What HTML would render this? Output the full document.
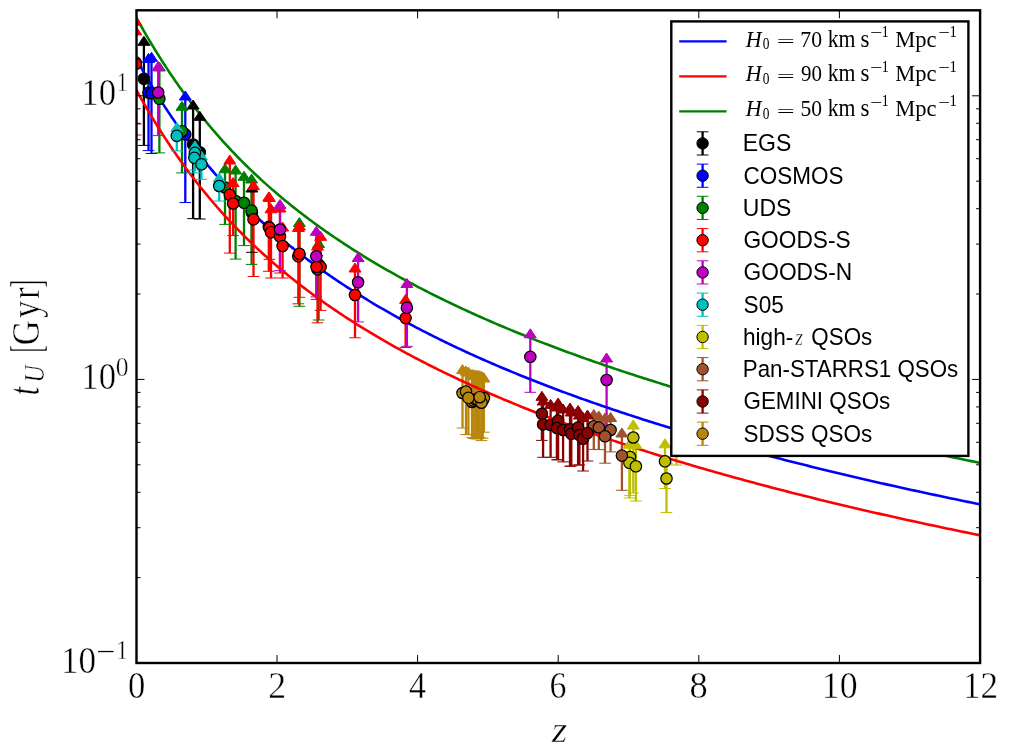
<!DOCTYPE html>
<html lang="en"><head><meta charset="utf-8"><title>t_U vs z</title>
<style>html,body{margin:0;padding:0;background:#fff;}body{width:1024px;height:752px;overflow:hidden;}svg{display:block;}.tx{font-family:"Liberation Serif", serif;fill:#000;}.ss{font-family:"Liberation Sans", sans-serif;fill:#000;}</style>
</head><body>
<svg width="1024" height="752" viewBox="0 0 1024 752">
<rect x="0" y="0" width="1024" height="752" fill="#ffffff"/>
<defs><clipPath id="ax"><rect x="136.5" y="10.3" width="843.6" height="652.7"/></clipPath></defs>
<g clip-path="url(#ax)">
<g stroke="#000000" stroke-width="2.3" fill="none">
<line x1="143.9" y1="38.3" x2="143.9" y2="145.4"/>
<line x1="193.1" y1="102.0" x2="193.1" y2="218.6"/>
<line x1="199.8" y1="113.3" x2="199.8" y2="219.0"/>
<line x1="251.9" y1="185.0" x2="251.9" y2="252.3"/>
</g>
<g stroke="#0000ff" stroke-width="2.3" fill="none">
<line x1="148.5" y1="55.5" x2="148.5" y2="150.6"/>
<line x1="151.5" y1="54.3" x2="151.5" y2="153.5"/>
<line x1="185.3" y1="93.0" x2="185.3" y2="202.5"/>
</g>
<g stroke="#008000" stroke-width="2.3" fill="none">
<line x1="159.4" y1="64.0" x2="159.4" y2="152.9"/>
<line x1="182.0" y1="103.3" x2="182.0" y2="172.9"/>
<line x1="225.0" y1="165.8" x2="225.0" y2="224.4"/>
<line x1="235.6" y1="167.0" x2="235.6" y2="259.1"/>
<line x1="244.0" y1="173.3" x2="244.0" y2="245.6"/>
<line x1="251.6" y1="176.0" x2="251.6" y2="264.4"/>
<line x1="299.4" y1="219.5" x2="299.4" y2="306.3"/>
<line x1="318.6" y1="240.5" x2="318.6" y2="320.0"/>
</g>
<g stroke="#ff0000" stroke-width="2.3" fill="none">
<line x1="135.8" y1="18.3" x2="135.8" y2="135.0"/>
<line x1="135.8" y1="27.9" x2="135.8" y2="124.0"/>
<line x1="229.8" y1="157.0" x2="229.8" y2="253.1"/>
<line x1="233.1" y1="179.5" x2="233.1" y2="235.6"/>
<line x1="253.5" y1="182.6" x2="253.5" y2="276.5"/>
<line x1="268.8" y1="193.9" x2="268.8" y2="271.3"/>
<line x1="269.4" y1="194.5" x2="269.4" y2="259.4"/>
<line x1="271.0" y1="205.8" x2="271.0" y2="278.0"/>
<line x1="280.0" y1="205.0" x2="280.0" y2="273.0"/>
<line x1="282.6" y1="224.0" x2="282.6" y2="278.0"/>
<line x1="298.3" y1="224.5" x2="298.3" y2="303.8"/>
<line x1="299.4" y1="223.0" x2="299.4" y2="297.3"/>
<line x1="317.5" y1="243.0" x2="317.5" y2="322.8"/>
<line x1="320.6" y1="233.3" x2="320.6" y2="310.4"/>
<line x1="316.5" y1="249.0" x2="316.5" y2="299.4"/>
<line x1="355.0" y1="265.0" x2="355.0" y2="337.8"/>
<line x1="405.6" y1="296.4" x2="405.6" y2="347.5"/>
</g>
<g stroke="#bf00bf" stroke-width="2.3" fill="none">
<line x1="158.2" y1="63.4" x2="158.2" y2="135.6"/>
<line x1="280.0" y1="201.4" x2="280.0" y2="270.6"/>
<line x1="316.3" y1="228.3" x2="316.3" y2="296.9"/>
<line x1="358.1" y1="254.5" x2="358.1" y2="321.9"/>
<line x1="406.9" y1="280.5" x2="406.9" y2="346.3"/>
<line x1="530.3" y1="330.8" x2="530.3" y2="392.3"/>
<line x1="606.6" y1="355.0" x2="606.6" y2="425.0"/>
</g>
<g stroke="#00bfbf" stroke-width="2.3" fill="none">
<line x1="176.8" y1="124.5" x2="176.8" y2="150.9"/>
<line x1="194.9" y1="142.9" x2="194.9" y2="170.0"/>
<line x1="194.4" y1="148.0" x2="194.4" y2="172.8"/>
<line x1="201.4" y1="153.0" x2="201.4" y2="179.3"/>
<line x1="219.2" y1="175.0" x2="219.2" y2="201.0"/>
</g>
<g stroke="#bfbf00" stroke-width="2.3" fill="none">
<line x1="633.3" y1="422.0" x2="633.3" y2="493.0"/>
<line x1="630.0" y1="440.8" x2="630.0" y2="495.6"/>
<line x1="629.4" y1="441.2" x2="629.4" y2="498.0"/>
<line x1="635.9" y1="441.6" x2="635.9" y2="501.0"/>
<line x1="665.0" y1="440.8" x2="665.0" y2="488.5"/>
<line x1="666.5" y1="457.0" x2="666.5" y2="512.5"/>
<line x1="676.4" y1="432.0" x2="676.4" y2="465.0"/>
</g>
<g stroke="#a0522d" stroke-width="2.3" fill="none">
<line x1="593.8" y1="411.4" x2="593.8" y2="449.4"/>
<line x1="598.8" y1="413.0" x2="598.8" y2="449.6"/>
<line x1="610.6" y1="414.5" x2="610.6" y2="451.9"/>
<line x1="605.0" y1="415.0" x2="605.0" y2="463.2"/>
<line x1="621.9" y1="430.0" x2="621.9" y2="490.3"/>
</g>
<g stroke="#8b0000" stroke-width="2.3" fill="none">
<line x1="541.9" y1="393.3" x2="541.9" y2="440.4"/>
<line x1="543.1" y1="398.0" x2="543.1" y2="457.3"/>
<line x1="550.6" y1="401.4" x2="550.6" y2="457.3"/>
<line x1="558.1" y1="400.0" x2="558.1" y2="459.8"/>
<line x1="556.9" y1="404.0" x2="556.9" y2="459.8"/>
<line x1="563.1" y1="406.0" x2="563.1" y2="461.9"/>
<line x1="570.0" y1="405.0" x2="570.0" y2="466.3"/>
<line x1="571.3" y1="409.0" x2="571.3" y2="466.0"/>
<line x1="578.1" y1="407.6" x2="578.1" y2="465.0"/>
<line x1="579.4" y1="412.0" x2="579.4" y2="465.0"/>
<line x1="583.1" y1="414.5" x2="583.1" y2="471.0"/>
<line x1="587.5" y1="412.0" x2="587.5" y2="461.0"/>
</g>
<g stroke="#b8860b" stroke-width="2.3" fill="none">
<line x1="462.5" y1="366.6" x2="462.5" y2="428.0"/>
<line x1="466.0" y1="368.0" x2="466.0" y2="434.6"/>
<line x1="472.0" y1="371.4" x2="472.0" y2="437.6"/>
<line x1="473.7" y1="371.8" x2="473.7" y2="438.4"/>
<line x1="477.0" y1="372.4" x2="477.0" y2="438.6"/>
<line x1="482.7" y1="374.0" x2="482.7" y2="438.2"/>
<line x1="475.5" y1="372.3" x2="475.5" y2="438.8"/>
<line x1="478.0" y1="372.6" x2="478.0" y2="438.8"/>
<line x1="483.9" y1="375.0" x2="483.9" y2="432.2"/>
<line x1="481.5" y1="373.5" x2="481.5" y2="440.6"/>
<line x1="468.4" y1="369.0" x2="468.4" y2="434.6"/>
<line x1="479.7" y1="372.8" x2="479.7" y2="437.6"/>
</g>
<polyline points="134.99,56.57 135.05,56.68 135.17,56.89 135.33,57.19 135.53,57.55 135.76,57.97 136.02,58.44 136.30,58.96 136.61,59.52 136.95,60.13 137.31,60.78 137.69,61.47 138.09,62.20 138.51,62.96 138.96,63.75 139.42,64.58 139.90,65.44 140.40,66.33 140.92,67.24 141.45,68.19 142.01,69.16 142.58,70.16 143.16,71.19 143.77,72.24 144.38,73.31 145.02,74.41 145.67,75.53 146.33,76.67 147.01,77.83 147.70,79.02 148.41,80.22 149.13,81.44 149.87,82.68 150.62,83.94 151.39,85.22 152.16,86.51 152.96,87.82 153.76,89.14 154.58,90.48 155.41,91.84 156.25,93.21 157.11,94.59 157.98,95.99 158.86,97.40 159.76,98.82 160.66,100.25 161.58,101.70 162.51,103.16 163.46,104.62 164.41,106.10 165.38,107.59 166.36,109.08 167.35,110.59 168.35,112.10 169.36,113.62 170.38,115.15 171.42,116.69 172.46,118.24 173.52,119.79 174.59,121.35 175.67,122.91 176.76,124.48 177.86,126.05 178.97,127.63 180.09,129.22 181.23,130.81 182.37,132.40 183.52,134.00 184.69,135.60 185.86,137.20 187.05,138.81 188.24,140.41 189.45,142.03 190.66,143.64 191.89,145.26 193.12,146.87 194.37,148.49 195.62,150.11 196.89,151.73 198.16,153.35 199.45,154.98 200.74,156.60 202.04,158.22 203.36,159.84 204.68,161.46 206.01,163.09 207.35,164.71 208.70,166.33 210.06,167.95 211.43,169.57 212.81,171.18 214.20,172.80 215.60,174.41 217.00,176.02 218.42,177.63 219.84,179.24 221.28,180.85 222.72,182.45 224.17,184.05 225.63,185.65 227.10,187.25 228.58,188.84 230.06,190.43 231.56,192.02 233.06,193.61 234.58,195.19 236.10,196.77 237.63,198.34 239.17,199.91 240.72,201.48 242.27,203.05 243.84,204.61 245.41,206.17 246.99,207.72 248.58,209.27 250.18,210.82 251.79,212.36 253.40,213.90 255.03,215.44 256.66,216.97 258.30,218.49 259.95,220.02 261.60,221.53 263.27,223.05 264.94,224.56 266.62,226.07 268.31,227.57 270.01,229.06 271.71,230.56 273.42,232.05 275.14,233.53 276.87,235.01 278.61,236.49 280.36,237.96 282.11,239.42 283.87,240.89 285.64,242.34 287.41,243.80 289.20,245.24 290.99,246.69 292.79,248.13 294.60,249.56 296.41,250.99 298.23,252.42 300.06,253.84 301.90,255.26 303.75,256.67 305.60,258.08 307.46,259.48 309.33,260.88 311.20,262.27 313.09,263.66 314.98,265.05 316.88,266.43 318.78,267.80 320.70,269.18 322.62,270.54 324.54,271.90 326.48,273.26 328.42,274.62 330.37,275.96 332.33,277.31 334.30,278.65 336.27,279.98 338.25,281.31 340.23,282.64 342.23,283.96 344.23,285.28 346.24,286.59 348.25,287.90 350.27,289.21 352.30,290.51 354.34,291.80 356.38,293.09 358.44,294.38 360.49,295.66 362.56,296.94 364.63,298.21 366.71,299.48 368.80,300.75 370.89,302.01 372.99,303.27 375.10,304.52 377.21,305.77 379.33,307.01 381.46,308.25 383.60,309.49 385.74,310.72 387.89,311.95 390.04,313.17 392.21,314.39 394.38,315.61 396.55,316.82 398.73,318.03 400.92,319.23 403.12,320.43 405.32,321.63 407.53,322.82 409.75,324.01 411.98,325.19 414.21,326.37 416.44,327.55 418.69,328.72 420.94,329.89 423.19,331.05 425.46,332.21 427.73,333.37 430.01,334.52 432.29,335.67 434.58,336.82 436.88,337.96 439.18,339.10 441.49,340.23 443.81,341.36 446.13,342.49 448.46,343.61 450.79,344.73 453.14,345.85 455.49,346.96 457.84,348.07 460.20,349.18 462.57,350.28 464.95,351.38 467.33,352.47 469.71,353.57 472.11,354.65 474.51,355.74 476.92,356.82 479.33,357.90 481.75,358.97 484.17,360.04 486.61,361.11 489.05,362.18 491.49,363.24 493.94,364.29 496.40,365.35 498.86,366.40 501.33,367.45 503.81,368.49 506.29,369.54 508.78,370.57 511.28,371.61 513.78,372.64 516.28,373.67 518.80,374.70 521.32,375.72 523.84,376.74 526.38,377.75 528.91,378.77 531.46,379.78 534.01,380.78 536.57,381.79 539.13,382.79 541.70,383.79 544.27,384.78 546.85,385.77 549.44,386.76 552.04,387.75 554.63,388.73 557.24,389.71 559.85,390.69 562.47,391.67 565.09,392.64 567.72,393.61 570.36,394.57 573.00,395.54 575.65,396.50 578.30,397.45 580.96,398.41 583.63,399.36 586.30,400.31 588.97,401.26 591.66,402.20 594.35,403.14 597.04,404.08 599.74,405.02 602.45,405.95 605.16,406.88 607.88,407.81 610.61,408.73 613.34,409.66 616.07,410.58 618.81,411.49 621.56,412.41 624.32,413.32 627.08,414.23 629.84,415.14 632.61,416.04 635.39,416.94 638.17,417.84 640.96,418.74 643.76,419.64 646.56,420.53 649.36,421.42 652.17,422.30 654.99,423.19 657.81,424.07 660.64,424.95 663.48,425.83 666.32,426.70 669.16,427.58 672.02,428.45 674.87,429.32 677.74,430.18 680.61,431.05 683.48,431.91 686.36,432.77 689.25,433.62 692.14,434.48 695.03,435.33 697.94,436.18 700.85,437.03 703.76,437.87 706.68,438.71 709.60,439.56 712.53,440.39 715.47,441.23 718.41,442.06 721.36,442.90 724.31,443.73 727.27,444.55 730.24,445.38 733.21,446.20 736.18,447.03 739.16,447.84 742.15,448.66 745.14,449.48 748.14,450.29 751.14,451.10 754.15,451.91 757.16,452.72 760.18,453.52 763.21,454.32 766.24,455.12 769.27,455.92 772.31,456.72 775.36,457.51 778.41,458.31 781.47,459.10 784.53,459.89 787.60,460.67 790.68,461.46 793.75,462.24 796.84,463.02 799.93,463.80 803.02,464.58 806.13,465.35 809.23,466.13 812.34,466.90 815.46,467.67 818.58,468.44 821.71,469.20 824.84,469.97 827.98,470.73 831.13,471.49 834.27,472.25 837.43,473.00 840.59,473.76 843.75,474.51 846.92,475.26 850.10,476.01 853.28,476.76 856.47,477.51 859.66,478.25 862.85,478.99 866.06,479.73 869.26,480.47 872.48,481.21 875.69,481.94 878.92,482.68 882.15,483.41 885.38,484.14 888.62,484.87 891.86,485.59 895.11,486.32 898.37,487.04 901.63,487.77 904.89,488.49 908.16,489.20 911.44,489.92 914.72,490.64 918.00,491.35 921.29,492.06 924.59,492.77 927.89,493.48 931.20,494.19 934.51,494.89 937.82,495.60 941.15,496.30 944.47,497.00 947.80,497.70 951.14,498.40 954.48,499.09 957.83,499.79 961.18,500.48 964.54,501.17 967.90,501.86 971.27,502.55 974.64,503.24 978.02,503.92 981.41,504.61" fill="none" stroke="#0000ff" stroke-width="2.6" stroke-linejoin="round"/>
<polyline points="134.99,87.53 135.05,87.63 135.17,87.85 135.33,88.14 135.53,88.50 135.76,88.92 136.02,89.39 136.30,89.91 136.61,90.48 136.95,91.09 137.31,91.74 137.69,92.42 138.09,93.15 138.51,93.91 138.96,94.70 139.42,95.53 139.90,96.39 140.40,97.28 140.92,98.20 141.45,99.14 142.01,100.12 142.58,101.12 143.16,102.14 143.77,103.19 144.38,104.27 145.02,105.36 145.67,106.48 146.33,107.62 147.01,108.79 147.70,109.97 148.41,111.17 149.13,112.39 149.87,113.63 150.62,114.89 151.39,116.17 152.16,117.46 152.96,118.77 153.76,120.10 154.58,121.44 155.41,122.79 156.25,124.16 157.11,125.55 157.98,126.94 158.86,128.35 159.76,129.77 160.66,131.21 161.58,132.65 162.51,134.11 163.46,135.58 164.41,137.05 165.38,138.54 166.36,140.04 167.35,141.54 168.35,143.06 169.36,144.58 170.38,146.11 171.42,147.65 172.46,149.19 173.52,150.74 174.59,152.30 175.67,153.86 176.76,155.43 177.86,157.01 178.97,158.59 180.09,160.17 181.23,161.76 182.37,163.35 183.52,164.95 184.69,166.55 185.86,168.15 187.05,169.76 188.24,171.37 189.45,172.98 190.66,174.59 191.89,176.21 193.12,177.83 194.37,179.44 195.62,181.06 196.89,182.68 198.16,184.31 199.45,185.93 200.74,187.55 202.04,189.17 203.36,190.80 204.68,192.42 206.01,194.04 207.35,195.66 208.70,197.28 210.06,198.90 211.43,200.52 212.81,202.14 214.20,203.75 215.60,205.37 217.00,206.98 218.42,208.59 219.84,210.20 221.28,211.80 222.72,213.41 224.17,215.01 225.63,216.61 227.10,218.20 228.58,219.80 230.06,221.39 231.56,222.97 233.06,224.56 234.58,226.14 236.10,227.72 237.63,229.30 239.17,230.87 240.72,232.44 242.27,234.00 243.84,235.56 245.41,237.12 246.99,238.68 248.58,240.23 250.18,241.77 251.79,243.32 253.40,244.85 255.03,246.39 256.66,247.92 258.30,249.45 259.95,250.97 261.60,252.49 263.27,254.00 264.94,255.51 266.62,257.02 268.31,258.52 270.01,260.02 271.71,261.51 273.42,263.00 275.14,264.48 276.87,265.96 278.61,267.44 280.36,268.91 282.11,270.38 283.87,271.84 285.64,273.30 287.41,274.75 289.20,276.20 290.99,277.64 292.79,279.08 294.60,280.52 296.41,281.95 298.23,283.37 300.06,284.79 301.90,286.21 303.75,287.62 305.60,289.03 307.46,290.43 309.33,291.83 311.20,293.23 313.09,294.62 314.98,296.00 316.88,297.38 318.78,298.76 320.70,300.13 322.62,301.50 324.54,302.86 326.48,304.22 328.42,305.57 330.37,306.92 332.33,308.26 334.30,309.60 336.27,310.94 338.25,312.27 340.23,313.59 342.23,314.92 344.23,316.23 346.24,317.55 348.25,318.86 350.27,320.16 352.30,321.46 354.34,322.76 356.38,324.05 358.44,325.33 360.49,326.62 362.56,327.89 364.63,329.17 366.71,330.44 368.80,331.70 370.89,332.96 372.99,334.22 375.10,335.47 377.21,336.72 379.33,337.97 381.46,339.21 383.60,340.44 385.74,341.68 387.89,342.90 390.04,344.13 392.21,345.35 394.38,346.56 396.55,347.77 398.73,348.98 400.92,350.19 403.12,351.39 405.32,352.58 407.53,353.77 409.75,354.96 411.98,356.14 414.21,357.32 416.44,358.50 418.69,359.67 420.94,360.84 423.19,362.01 425.46,363.17 427.73,364.32 430.01,365.48 432.29,366.63 434.58,367.77 436.88,368.91 439.18,370.05 441.49,371.19 443.81,372.32 446.13,373.44 448.46,374.57 450.79,375.69 453.14,376.80 455.49,377.92 457.84,379.03 460.20,380.13 462.57,381.23 464.95,382.33 467.33,383.43 469.71,384.52 472.11,385.61 474.51,386.69 476.92,387.77 479.33,388.85 481.75,389.93 484.17,391.00 486.61,392.06 489.05,393.13 491.49,394.19 493.94,395.25 496.40,396.30 498.86,397.35 501.33,398.40 503.81,399.45 506.29,400.49 508.78,401.53 511.28,402.56 513.78,403.59 516.28,404.62 518.80,405.65 521.32,406.67 523.84,407.69 526.38,408.71 528.91,409.72 531.46,410.73 534.01,411.74 536.57,412.74 539.13,413.74 541.70,414.74 544.27,415.74 546.85,416.73 549.44,417.72 552.04,418.70 554.63,419.69 557.24,420.67 559.85,421.65 562.47,422.62 565.09,423.59 567.72,424.56 570.36,425.53 573.00,426.49 575.65,427.45 578.30,428.41 580.96,429.36 583.63,430.32 586.30,431.26 588.97,432.21 591.66,433.15 594.35,434.10 597.04,435.03 599.74,435.97 602.45,436.90 605.16,437.83 607.88,438.76 610.61,439.69 613.34,440.61 616.07,441.53 618.81,442.45 621.56,443.36 624.32,444.27 627.08,445.18 629.84,446.09 632.61,447.00 635.39,447.90 638.17,448.80 640.96,449.69 643.76,450.59 646.56,451.48 649.36,452.37 652.17,453.26 654.99,454.14 657.81,455.03 660.64,455.91 663.48,456.78 666.32,457.66 669.16,458.53 672.02,459.40 674.87,460.27 677.74,461.14 680.61,462.00 683.48,462.86 686.36,463.72 689.25,464.58 692.14,465.43 695.03,466.28 697.94,467.13 700.85,467.98 703.76,468.82 706.68,469.67 709.60,470.51 712.53,471.35 715.47,472.18 718.41,473.02 721.36,473.85 724.31,474.68 727.27,475.51 730.24,476.33 733.21,477.16 736.18,477.98 739.16,478.80 742.15,479.62 745.14,480.43 748.14,481.24 751.14,482.05 754.15,482.86 757.16,483.67 760.18,484.47 763.21,485.28 766.24,486.08 769.27,486.88 772.31,487.67 775.36,488.47 778.41,489.26 781.47,490.05 784.53,490.84 787.60,491.63 790.68,492.41 793.75,493.19 796.84,493.98 799.93,494.75 803.02,495.53 806.13,496.31 809.23,497.08 812.34,497.85 815.46,498.62 818.58,499.39 821.71,500.16 824.84,500.92 827.98,501.68 831.13,502.44 834.27,503.20 837.43,503.96 840.59,504.71 843.75,505.46 846.92,506.22 850.10,506.97 853.28,507.71 856.47,508.46 859.66,509.20 862.85,509.95 866.06,510.69 869.26,511.42 872.48,512.16 875.69,512.90 878.92,513.63 882.15,514.36 885.38,515.09 888.62,515.82 891.86,516.55 895.11,517.27 898.37,518.00 901.63,518.72 904.89,519.44 908.16,520.16 911.44,520.87 914.72,521.59 918.00,522.30 921.29,523.02 924.59,523.73 927.89,524.43 931.20,525.14 934.51,525.85 937.82,526.55 941.15,527.25 944.47,527.95 947.80,528.65 951.14,529.35 954.48,530.05 957.83,530.74 961.18,531.43 964.54,532.13 967.90,532.82 971.27,533.50 974.64,534.19 978.02,534.88 981.41,535.56" fill="none" stroke="#ff0000" stroke-width="2.6" stroke-linejoin="round"/>
<polyline points="134.99,15.13 135.05,15.24 135.17,15.45 135.33,15.75 135.53,16.11 135.76,16.53 136.02,17.00 136.30,17.52 136.61,18.08 136.95,18.69 137.31,19.34 137.69,20.03 138.09,20.75 138.51,21.51 138.96,22.31 139.42,23.14 139.90,23.99 140.40,24.88 140.92,25.80 141.45,26.75 142.01,27.72 142.58,28.72 143.16,29.75 143.77,30.80 144.38,31.87 145.02,32.97 145.67,34.09 146.33,35.23 147.01,36.39 147.70,37.57 148.41,38.78 149.13,40.00 149.87,41.24 150.62,42.50 151.39,43.77 152.16,45.07 152.96,46.38 153.76,47.70 154.58,49.04 155.41,50.40 156.25,51.77 157.11,53.15 157.98,54.55 158.86,55.96 159.76,57.38 160.66,58.81 161.58,60.26 162.51,61.71 163.46,63.18 164.41,64.66 165.38,66.15 166.36,67.64 167.35,69.15 168.35,70.66 169.36,72.18 170.38,73.71 171.42,75.25 172.46,76.79 173.52,78.35 174.59,79.90 175.67,81.47 176.76,83.04 177.86,84.61 178.97,86.19 180.09,87.77 181.23,89.36 182.37,90.96 183.52,92.55 184.69,94.15 185.86,95.76 187.05,97.36 188.24,98.97 189.45,100.58 190.66,102.20 191.89,103.81 193.12,105.43 194.37,107.05 195.62,108.67 196.89,110.29 198.16,111.91 199.45,113.53 200.74,115.16 202.04,116.78 203.36,118.40 204.68,120.02 206.01,121.64 207.35,123.27 208.70,124.89 210.06,126.51 211.43,128.12 212.81,129.74 214.20,131.36 215.60,132.97 217.00,134.58 218.42,136.19 219.84,137.80 221.28,139.41 222.72,141.01 224.17,142.61 225.63,144.21 227.10,145.81 228.58,147.40 230.06,148.99 231.56,150.58 233.06,152.16 234.58,153.75 236.10,155.33 237.63,156.90 239.17,158.47 240.72,160.04 242.27,161.61 243.84,163.17 245.41,164.73 246.99,166.28 248.58,167.83 250.18,169.38 251.79,170.92 253.40,172.46 255.03,173.99 256.66,175.52 258.30,177.05 259.95,178.57 261.60,180.09 263.27,181.61 264.94,183.12 266.62,184.62 268.31,186.12 270.01,187.62 271.71,189.12 273.42,190.60 275.14,192.09 276.87,193.57 278.61,195.04 280.36,196.51 282.11,197.98 283.87,199.44 285.64,200.90 287.41,202.35 289.20,203.80 290.99,205.25 292.79,206.69 294.60,208.12 296.41,209.55 298.23,210.98 300.06,212.40 301.90,213.82 303.75,215.23 305.60,216.64 307.46,218.04 309.33,219.44 311.20,220.83 313.09,222.22 314.98,223.61 316.88,224.99 318.78,226.36 320.70,227.73 322.62,229.10 324.54,230.46 326.48,231.82 328.42,233.17 330.37,234.52 332.33,235.87 334.30,237.21 336.27,238.54 338.25,239.87 340.23,241.20 342.23,242.52 344.23,243.84 346.24,245.15 348.25,246.46 350.27,247.76 352.30,249.06 354.34,250.36 356.38,251.65 358.44,252.94 360.49,254.22 362.56,255.50 364.63,256.77 366.71,258.04 368.80,259.31 370.89,260.57 372.99,261.83 375.10,263.08 377.21,264.33 379.33,265.57 381.46,266.81 383.60,268.05 385.74,269.28 387.89,270.51 390.04,271.73 392.21,272.95 394.38,274.17 396.55,275.38 398.73,276.59 400.92,277.79 403.12,278.99 405.32,280.19 407.53,281.38 409.75,282.57 411.98,283.75 414.21,284.93 416.44,286.11 418.69,287.28 420.94,288.45 423.19,289.61 425.46,290.77 427.73,291.93 430.01,293.08 432.29,294.23 434.58,295.38 436.88,296.52 439.18,297.66 441.49,298.79 443.81,299.92 446.13,301.05 448.46,302.17 450.79,303.29 453.14,304.41 455.49,305.52 457.84,306.63 460.20,307.74 462.57,308.84 464.95,309.94 467.33,311.03 469.71,312.12 472.11,313.21 474.51,314.30 476.92,315.38 479.33,316.46 481.75,317.53 484.17,318.60 486.61,319.67 489.05,320.73 491.49,321.80 493.94,322.85 496.40,323.91 498.86,324.96 501.33,326.01 503.81,327.05 506.29,328.09 508.78,329.13 511.28,330.17 513.78,331.20 516.28,332.23 518.80,333.25 521.32,334.28 523.84,335.30 526.38,336.31 528.91,337.32 531.46,338.34 534.01,339.34 536.57,340.35 539.13,341.35 541.70,342.35 544.27,343.34 546.85,344.33 549.44,345.32 552.04,346.31 554.63,347.29 557.24,348.27 559.85,349.25 562.47,350.22 565.09,351.20 567.72,352.17 570.36,353.13 573.00,354.09 575.65,355.06 578.30,356.01 580.96,356.97 583.63,357.92 586.30,358.87 588.97,359.82 591.66,360.76 594.35,361.70 597.04,362.64 599.74,363.58 602.45,364.51 605.16,365.44 607.88,366.37 610.61,367.29 613.34,368.21 616.07,369.13 618.81,370.05 621.56,370.97 624.32,371.88 627.08,372.79 629.84,373.70 632.61,374.60 635.39,375.50 638.17,376.40 640.96,377.30 643.76,378.19 646.56,379.09 649.36,379.98 652.17,380.86 654.99,381.75 657.81,382.63 660.64,383.51 663.48,384.39 666.32,385.26 669.16,386.14 672.02,387.01 674.87,387.87 677.74,388.74 680.61,389.60 683.48,390.47 686.36,391.32 689.25,392.18 692.14,393.03 695.03,393.89 697.94,394.74 700.85,395.58 703.76,396.43 706.68,397.27 709.60,398.11 712.53,398.95 715.47,399.79 718.41,400.62 721.36,401.46 724.31,402.29 727.27,403.11 730.24,403.94 733.21,404.76 736.18,405.58 739.16,406.40 742.15,407.22 745.14,408.03 748.14,408.85 751.14,409.66 754.15,410.47 757.16,411.27 760.18,412.08 763.21,412.88 766.24,413.68 769.27,414.48 772.31,415.28 775.36,416.07 778.41,416.87 781.47,417.66 784.53,418.45 787.60,419.23 790.68,420.02 793.75,420.80 796.84,421.58 799.93,422.36 803.02,423.14 806.13,423.91 809.23,424.69 812.34,425.46 815.46,426.23 818.58,426.99 821.71,427.76 824.84,428.52 827.98,429.29 831.13,430.05 834.27,430.80 837.43,431.56 840.59,432.32 843.75,433.07 846.92,433.82 850.10,434.57 853.28,435.32 856.47,436.06 859.66,436.81 862.85,437.55 866.06,438.29 869.26,439.03 872.48,439.77 875.69,440.50 878.92,441.24 882.15,441.97 885.38,442.70 888.62,443.43 891.86,444.15 895.11,444.88 898.37,445.60 901.63,446.32 904.89,447.04 908.16,447.76 911.44,448.48 914.72,449.19 918.00,449.91 921.29,450.62 924.59,451.33 927.89,452.04 931.20,452.75 934.51,453.45 937.82,454.16 941.15,454.86 944.47,455.56 947.80,456.26 951.14,456.96 954.48,457.65 957.83,458.35 961.18,459.04 964.54,459.73 967.90,460.42 971.27,461.11 974.64,461.80 978.02,462.48 981.41,463.17" fill="none" stroke="#008000" stroke-width="2.6" stroke-linejoin="round"/>
<g stroke-width="1">
<path d="M138.1 145.4H149.7M187.3 218.6H198.9M194.0 219.0H205.6M246.1 252.3H257.7" stroke="#000000" fill="none"/>
<path d="M137.9 45.3L143.9 36.3L149.9 45.3ZM187.1 109.0L193.1 100.0L199.1 109.0ZM193.8 120.3L199.8 111.3L205.8 120.3ZM245.9 192.0L251.9 183.0L257.9 192.0Z" fill="#000000" stroke="#000000"/>
<g fill="#000000" stroke="#000" stroke-width="1.2">
<circle cx="143.9" cy="78.8" r="5.7"/>
<circle cx="193.1" cy="144.5" r="5.7"/>
<circle cx="199.8" cy="152.3" r="5.7"/>
<circle cx="251.9" cy="212.5" r="5.7"/>
</g>
</g>
<g stroke-width="1">
<path d="M142.7 150.6H154.3M145.7 153.5H157.3M179.5 202.5H191.1" stroke="#0000ff" fill="none"/>
<path d="M142.5 62.5L148.5 53.5L154.5 62.5ZM145.5 61.3L151.5 52.3L157.5 61.3ZM179.3 100.0L185.3 91.0L191.3 100.0Z" fill="#0000ff" stroke="#0000ff"/>
<g fill="#0000ff" stroke="#000" stroke-width="1.2">
<circle cx="148.5" cy="92.6" r="5.7"/>
<circle cx="151.5" cy="93.2" r="5.7"/>
<circle cx="185.3" cy="134.4" r="5.7"/>
</g>
</g>
<g stroke-width="1">
<path d="M153.6 152.9H165.2M176.2 172.9H187.8M219.2 224.4H230.8M229.8 259.1H241.4M238.2 245.6H249.8M245.8 264.4H257.4M293.6 306.3H305.2M312.8 320.0H324.4" stroke="#008000" fill="none"/>
<path d="M153.4 71.0L159.4 62.0L165.4 71.0ZM176.0 110.3L182.0 101.3L188.0 110.3ZM219.0 172.8L225.0 163.8L231.0 172.8ZM229.6 174.0L235.6 165.0L241.6 174.0ZM238.0 180.3L244.0 171.3L250.0 180.3ZM245.6 183.0L251.6 174.0L257.6 183.0ZM293.4 226.5L299.4 217.5L305.4 226.5ZM312.6 247.5L318.6 238.5L324.6 247.5Z" fill="#008000" stroke="#008000"/>
<g fill="#008000" stroke="#000" stroke-width="1.2">
<circle cx="159.4" cy="98.8" r="5.7"/>
<circle cx="182.0" cy="131.2" r="5.7"/>
<circle cx="225.0" cy="187.5" r="5.7"/>
<circle cx="235.6" cy="201.0" r="5.7"/>
<circle cx="244.0" cy="202.8" r="5.7"/>
<circle cx="251.6" cy="210.6" r="5.7"/>
<circle cx="299.4" cy="254.5" r="5.7"/>
<circle cx="318.6" cy="264.5" r="5.7"/>
</g>
</g>
<g stroke-width="1">
<path d="M130.0 135.0H141.6M130.0 124.0H141.6M224.0 253.1H235.6M227.3 235.6H238.9M247.7 276.5H259.3M263.0 271.3H274.6M263.6 259.4H275.2M265.2 278.0H276.8M274.2 273.0H285.8M276.8 278.0H288.4M292.5 303.8H304.1M293.6 297.3H305.2M311.7 322.8H323.3M314.8 310.4H326.4M310.7 299.4H322.3M349.2 337.8H360.8M399.8 347.5H411.4" stroke="#ff0000" fill="none"/>
<path d="M129.8 25.3L135.8 16.3L141.8 25.3ZM129.8 34.9L135.8 25.9L141.8 34.9ZM223.8 164.0L229.8 155.0L235.8 164.0ZM227.1 186.5L233.1 177.5L239.1 186.5ZM247.5 189.6L253.5 180.6L259.5 189.6ZM262.8 200.9L268.8 191.9L274.8 200.9ZM263.4 201.5L269.4 192.5L275.4 201.5ZM265.0 212.8L271.0 203.8L277.0 212.8ZM274.0 212.0L280.0 203.0L286.0 212.0ZM276.6 231.0L282.6 222.0L288.6 231.0ZM292.3 231.5L298.3 222.5L304.3 231.5ZM293.4 230.0L299.4 221.0L305.4 230.0ZM311.5 250.0L317.5 241.0L323.5 250.0ZM314.6 240.3L320.6 231.3L326.6 240.3ZM310.5 256.0L316.5 247.0L322.5 256.0ZM349.0 272.0L355.0 263.0L361.0 272.0ZM399.6 303.4L405.6 294.4L411.6 303.4Z" fill="#ff0000" stroke="#ff0000"/>
<g fill="#ff0000" stroke="#000" stroke-width="1.2">
<circle cx="135.8" cy="62.6" r="5.7"/>
<circle cx="135.8" cy="64.0" r="5.7"/>
<circle cx="229.8" cy="194.8" r="5.7"/>
<circle cx="233.1" cy="203.5" r="5.7"/>
<circle cx="253.5" cy="219.4" r="5.7"/>
<circle cx="268.8" cy="226.9" r="5.7"/>
<circle cx="269.4" cy="227.8" r="5.7"/>
<circle cx="271.0" cy="232.2" r="5.7"/>
<circle cx="280.0" cy="236.5" r="5.7"/>
<circle cx="282.6" cy="246.0" r="5.7"/>
<circle cx="298.3" cy="256.3" r="5.7"/>
<circle cx="299.4" cy="253.8" r="5.7"/>
<circle cx="317.5" cy="269.4" r="5.7"/>
<circle cx="320.6" cy="266.9" r="5.7"/>
<circle cx="316.5" cy="267.0" r="5.7"/>
<circle cx="355.0" cy="295.0" r="5.7"/>
<circle cx="405.6" cy="318.1" r="5.7"/>
</g>
</g>
<g stroke-width="1">
<path d="M152.4 135.6H164.0M274.2 270.6H285.8M310.5 296.9H322.1M352.3 321.9H363.9M401.1 346.3H412.7M524.5 392.3H536.1M600.8 425.0H612.4" stroke="#bf00bf" fill="none"/>
<path d="M152.2 70.4L158.2 61.4L164.2 70.4ZM274.0 208.4L280.0 199.4L286.0 208.4ZM310.3 235.3L316.3 226.3L322.3 235.3ZM352.1 261.5L358.1 252.5L364.1 261.5ZM400.9 287.5L406.9 278.5L412.9 287.5ZM524.3 337.8L530.3 328.8L536.3 337.8ZM600.6 362.0L606.6 353.0L612.6 362.0Z" fill="#bf00bf" stroke="#bf00bf"/>
<g fill="#bf00bf" stroke="#000" stroke-width="1.2">
<circle cx="158.2" cy="92.5" r="5.7"/>
<circle cx="280.0" cy="229.5" r="5.7"/>
<circle cx="316.3" cy="256.3" r="5.7"/>
<circle cx="358.1" cy="282.3" r="5.7"/>
<circle cx="406.9" cy="307.8" r="5.7"/>
<circle cx="530.3" cy="356.9" r="5.7"/>
<circle cx="606.6" cy="380.0" r="5.7"/>
</g>
</g>
<g stroke-width="1">
<path d="M171.0 150.9H182.6M189.1 170.0H200.7M188.6 172.8H200.2M195.6 179.3H207.2M213.4 201.0H225.0" stroke="#00bfbf" fill="none"/>
<path d="M170.8 131.5L176.8 122.5L182.8 131.5ZM188.9 149.9L194.9 140.9L200.9 149.9ZM188.4 155.0L194.4 146.0L200.4 155.0ZM195.4 160.0L201.4 151.0L207.4 160.0ZM213.2 182.0L219.2 173.0L225.2 182.0Z" fill="#00bfbf" stroke="#00bfbf"/>
<g fill="#00bfbf" stroke="#000" stroke-width="1.2">
<circle cx="176.8" cy="135.9" r="5.7"/>
<circle cx="194.9" cy="152.9" r="5.7"/>
<circle cx="194.4" cy="157.9" r="5.7"/>
<circle cx="201.4" cy="164.3" r="5.7"/>
<circle cx="219.2" cy="186.0" r="5.7"/>
</g>
</g>
<g stroke-width="1">
<path d="M627.5 493.0H639.1M624.2 495.6H635.8M623.6 498.0H635.2M630.1 501.0H641.7M659.2 488.5H670.8M660.7 512.5H672.3M670.6 465.0H682.2" stroke="#bfbf00" fill="none"/>
<path d="M627.3 429.0L633.3 420.0L639.3 429.0ZM624.0 447.8L630.0 438.8L636.0 447.8ZM623.4 448.2L629.4 439.2L635.4 448.2ZM629.9 448.6L635.9 439.6L641.9 448.6ZM659.0 447.8L665.0 438.8L671.0 447.8ZM660.5 464.0L666.5 455.0L672.5 464.0ZM670.4 439.0L676.4 430.0L682.4 439.0Z" fill="#bfbf00" stroke="#bfbf00"/>
<g fill="#bfbf00" stroke="#000" stroke-width="1.2">
<circle cx="633.3" cy="437.5" r="5.7"/>
<circle cx="630.0" cy="457.0" r="5.7"/>
<circle cx="629.4" cy="462.8" r="5.7"/>
<circle cx="635.9" cy="466.3" r="5.7"/>
<circle cx="665.0" cy="461.3" r="5.7"/>
<circle cx="666.5" cy="478.5" r="5.7"/>
<circle cx="676.4" cy="448.8" r="5.7"/>
</g>
</g>
<g stroke-width="1">
<path d="M588.0 449.4H599.6M593.0 449.6H604.6M604.8 451.9H616.4M599.2 463.2H610.8M616.1 490.3H627.7" stroke="#a0522d" fill="none"/>
<path d="M587.8 418.4L593.8 409.4L599.8 418.4ZM592.8 420.0L598.8 411.0L604.8 420.0ZM604.6 421.5L610.6 412.5L616.6 421.5ZM599.0 422.0L605.0 413.0L611.0 422.0ZM615.9 437.0L621.9 428.0L627.9 437.0Z" fill="#a0522d" stroke="#a0522d"/>
<g fill="#a0522d" stroke="#000" stroke-width="1.2">
<circle cx="593.8" cy="426.3" r="5.7"/>
<circle cx="598.8" cy="427.5" r="5.7"/>
<circle cx="610.6" cy="430.0" r="5.7"/>
<circle cx="605.0" cy="436.3" r="5.7"/>
<circle cx="621.9" cy="455.6" r="5.7"/>
</g>
</g>
<g stroke-width="1">
<path d="M536.1 440.4H547.7M537.3 457.3H548.9M544.8 457.3H556.4M552.3 459.8H563.9M551.1 459.8H562.7M557.3 461.9H568.9M564.2 466.3H575.8M565.5 466.0H577.1M572.3 465.0H583.9M573.6 465.0H585.2M577.3 471.0H588.9M581.7 461.0H593.3" stroke="#8b0000" fill="none"/>
<path d="M535.9 400.3L541.9 391.3L547.9 400.3ZM537.1 405.0L543.1 396.0L549.1 405.0ZM544.6 408.4L550.6 399.4L556.6 408.4ZM552.1 407.0L558.1 398.0L564.1 407.0ZM550.9 411.0L556.9 402.0L562.9 411.0ZM557.1 413.0L563.1 404.0L569.1 413.0ZM564.0 412.0L570.0 403.0L576.0 412.0ZM565.3 416.0L571.3 407.0L577.3 416.0ZM572.1 414.6L578.1 405.6L584.1 414.6ZM573.4 419.0L579.4 410.0L585.4 419.0ZM577.1 421.5L583.1 412.5L589.1 421.5ZM581.5 419.0L587.5 410.0L593.5 419.0Z" fill="#8b0000" stroke="#8b0000"/>
<g fill="#8b0000" stroke="#000" stroke-width="1.2">
<circle cx="541.9" cy="413.8" r="5.7"/>
<circle cx="543.1" cy="424.4" r="5.7"/>
<circle cx="550.6" cy="425.0" r="5.7"/>
<circle cx="558.1" cy="420.6" r="5.7"/>
<circle cx="556.9" cy="428.0" r="5.7"/>
<circle cx="563.1" cy="430.0" r="5.7"/>
<circle cx="570.0" cy="429.4" r="5.7"/>
<circle cx="571.3" cy="433.8" r="5.7"/>
<circle cx="578.1" cy="427.5" r="5.7"/>
<circle cx="579.4" cy="435.0" r="5.7"/>
<circle cx="583.1" cy="438.8" r="5.7"/>
<circle cx="587.5" cy="433.1" r="5.7"/>
</g>
</g>
<g stroke-width="1">
<path d="M456.7 428.0H468.3M460.2 434.6H471.8M466.2 437.6H477.8M467.9 438.4H479.5M471.2 438.6H482.8M476.9 438.2H488.5M469.7 438.8H481.3M472.2 438.8H483.8M478.1 432.2H489.7M475.7 440.6H487.3M462.6 434.6H474.2M473.9 437.6H485.5" stroke="#b8860b" fill="none"/>
<path d="M456.5 373.6L462.5 364.6L468.5 373.6ZM460.0 375.0L466.0 366.0L472.0 375.0ZM466.0 378.4L472.0 369.4L478.0 378.4ZM467.7 378.8L473.7 369.8L479.7 378.8ZM471.0 379.4L477.0 370.4L483.0 379.4ZM476.7 381.0L482.7 372.0L488.7 381.0ZM469.5 379.3L475.5 370.3L481.5 379.3ZM472.0 379.6L478.0 370.6L484.0 379.6ZM477.9 382.0L483.9 373.0L489.9 382.0ZM475.5 380.5L481.5 371.5L487.5 380.5ZM462.4 376.0L468.4 367.0L474.4 376.0ZM473.7 379.8L479.7 370.8L485.7 379.8Z" fill="#b8860b" stroke="#b8860b"/>
<g fill="#b8860b" stroke="#000" stroke-width="1.2">
<circle cx="462.5" cy="393.0" r="5.7"/>
<circle cx="466.0" cy="391.5" r="5.7"/>
<circle cx="472.0" cy="402.0" r="5.7"/>
<circle cx="473.7" cy="400.8" r="5.7"/>
<circle cx="477.0" cy="399.2" r="5.7"/>
<circle cx="482.7" cy="400.4" r="5.7"/>
<circle cx="475.5" cy="399.5" r="5.7"/>
<circle cx="478.0" cy="400.0" r="5.7"/>
<circle cx="483.9" cy="398.0" r="5.7"/>
<circle cx="481.5" cy="402.7" r="5.7"/>
<circle cx="468.4" cy="397.8" r="5.7"/>
<circle cx="479.7" cy="397.2" r="5.7"/>
</g>
</g>
</g>
<g stroke="#000" stroke-width="1" fill="none">
<line x1="136.4" y1="663.0" x2="136.4" y2="655.0"/>
<line x1="136.4" y1="10.3" x2="136.4" y2="18.3"/>
<line x1="277.0" y1="663.0" x2="277.0" y2="655.0"/>
<line x1="277.0" y1="10.3" x2="277.0" y2="18.3"/>
<line x1="417.6" y1="663.0" x2="417.6" y2="655.0"/>
<line x1="417.6" y1="10.3" x2="417.6" y2="18.3"/>
<line x1="558.2" y1="663.0" x2="558.2" y2="655.0"/>
<line x1="558.2" y1="10.3" x2="558.2" y2="18.3"/>
<line x1="698.8" y1="663.0" x2="698.8" y2="655.0"/>
<line x1="698.8" y1="10.3" x2="698.8" y2="18.3"/>
<line x1="839.4" y1="663.0" x2="839.4" y2="655.0"/>
<line x1="839.4" y1="10.3" x2="839.4" y2="18.3"/>
<line x1="980.0" y1="663.0" x2="980.0" y2="655.0"/>
<line x1="980.0" y1="10.3" x2="980.0" y2="18.3"/>
<line x1="136.5" y1="663.0" x2="144.5" y2="663.0"/>
<line x1="980.1" y1="663.0" x2="972.1" y2="663.0"/>
<line x1="136.5" y1="577.6" x2="140.5" y2="577.6"/>
<line x1="980.1" y1="577.6" x2="976.1" y2="577.6"/>
<line x1="136.5" y1="527.7" x2="140.5" y2="527.7"/>
<line x1="980.1" y1="527.7" x2="976.1" y2="527.7"/>
<line x1="136.5" y1="492.3" x2="140.5" y2="492.3"/>
<line x1="980.1" y1="492.3" x2="976.1" y2="492.3"/>
<line x1="136.5" y1="464.8" x2="140.5" y2="464.8"/>
<line x1="980.1" y1="464.8" x2="976.1" y2="464.8"/>
<line x1="136.5" y1="442.3" x2="140.5" y2="442.3"/>
<line x1="980.1" y1="442.3" x2="976.1" y2="442.3"/>
<line x1="136.5" y1="423.3" x2="140.5" y2="423.3"/>
<line x1="980.1" y1="423.3" x2="976.1" y2="423.3"/>
<line x1="136.5" y1="406.9" x2="140.5" y2="406.9"/>
<line x1="980.1" y1="406.9" x2="976.1" y2="406.9"/>
<line x1="136.5" y1="392.4" x2="140.5" y2="392.4"/>
<line x1="980.1" y1="392.4" x2="976.1" y2="392.4"/>
<line x1="136.5" y1="379.4" x2="144.5" y2="379.4"/>
<line x1="980.1" y1="379.4" x2="972.1" y2="379.4"/>
<line x1="136.5" y1="294.0" x2="140.5" y2="294.0"/>
<line x1="980.1" y1="294.0" x2="976.1" y2="294.0"/>
<line x1="136.5" y1="244.1" x2="140.5" y2="244.1"/>
<line x1="980.1" y1="244.1" x2="976.1" y2="244.1"/>
<line x1="136.5" y1="208.7" x2="140.5" y2="208.7"/>
<line x1="980.1" y1="208.7" x2="976.1" y2="208.7"/>
<line x1="136.5" y1="181.2" x2="140.5" y2="181.2"/>
<line x1="980.1" y1="181.2" x2="976.1" y2="181.2"/>
<line x1="136.5" y1="158.7" x2="140.5" y2="158.7"/>
<line x1="980.1" y1="158.7" x2="976.1" y2="158.7"/>
<line x1="136.5" y1="139.7" x2="140.5" y2="139.7"/>
<line x1="980.1" y1="139.7" x2="976.1" y2="139.7"/>
<line x1="136.5" y1="123.3" x2="140.5" y2="123.3"/>
<line x1="980.1" y1="123.3" x2="976.1" y2="123.3"/>
<line x1="136.5" y1="108.8" x2="140.5" y2="108.8"/>
<line x1="980.1" y1="108.8" x2="976.1" y2="108.8"/>
<line x1="136.5" y1="95.8" x2="144.5" y2="95.8"/>
<line x1="980.1" y1="95.8" x2="972.1" y2="95.8"/>
<line x1="136.5" y1="10.4" x2="140.5" y2="10.4"/>
<line x1="980.1" y1="10.4" x2="976.1" y2="10.4"/>
</g>
<rect x="136.5" y="10.3" width="843.6" height="652.7" fill="none" stroke="#000" stroke-width="2.4"/>
<text class="tx" transform="translate(128.10,697.80) scale(0.9091,1)" font-size="38.05" stroke="#fff" stroke-width="0.45">0</text>
<text class="tx" transform="translate(268.28,697.80) scale(0.9368,1)" font-size="38.19" stroke="#fff" stroke-width="0.45">2</text>
<text class="tx" transform="translate(408.92,697.80) scale(0.8830,1)" font-size="38.48" stroke="#fff" stroke-width="0.45">4</text>
<text class="tx" transform="translate(549.46,697.80) scale(0.8882,1)" font-size="38.19" stroke="#fff" stroke-width="0.45">6</text>
<text class="tx" transform="translate(689.43,697.80) scale(0.9586,1)" font-size="38.05" stroke="#fff" stroke-width="0.45">8</text>
<text class="tx" transform="translate(821.87,697.80) scale(0.9402,1)" font-size="38.05" stroke="#fff" stroke-width="0.45">10</text>
<text class="tx" transform="translate(962.93,697.80) scale(0.9192,1)" font-size="38.19" stroke="#fff" stroke-width="0.45">12</text>
<text class="tx" transform="translate(81.36,104.70) scale(0.9205,1)" font-size="37.74" stroke="#fff" stroke-width="0.45">10</text><text class="tx" transform="translate(116.76,91.10) scale(0.8393,1)" font-size="26.36" stroke="#fff" stroke-width="0.45">1</text>
<text class="tx" transform="translate(81.37,388.70) scale(0.9175,1)" font-size="37.74" stroke="#fff" stroke-width="0.45">10</text><text class="tx" transform="translate(115.84,375.50) scale(0.9269,1)" font-size="27.67" stroke="#fff" stroke-width="0.45">0</text>
<text class="tx" transform="translate(61.02,673.00) scale(0.9401,1)" font-size="37.44" stroke="#fff" stroke-width="0.45">10</text><text class="tx" transform="translate(96.43,660.40) scale(1.3072,1)" font-size="25.50">−</text><text class="tx" transform="translate(115.72,658.90) scale(0.9415,1)" font-size="26.52" stroke="#fff" stroke-width="0.45">1</text>
<text class="tx" font-style="italic" transform="translate(551.70,742.00) scale(1.1084,1)" font-size="36.09" stroke="#fff" stroke-width="0.45">z</text>
<g transform="translate(38.2,394.5) rotate(-90)"><text class="tx" font-style="italic" transform="translate(-0.87,0.60) scale(0.7004,1)" font-size="43.54" stroke="#fff" stroke-width="0.45">t</text><text class="tx" font-style="italic" transform="translate(12.00,5.70) scale(0.8247,1)" font-size="28.85" stroke="#fff" stroke-width="0.45">U</text> <text class="tx" transform="translate(42.08,3.00) scale(0.4794,1)" font-size="45.00" stroke="#fff" stroke-width="0.45">[</text><text class="tx" transform="translate(49.30,0.40) scale(0.8400,1)" font-size="40.90" letter-spacing="2.74" stroke="#fff" stroke-width="0.45">Gyr</text><text class="tx" transform="translate(107.09,3.00) scale(0.5136,1)" font-size="45.00" stroke="#fff" stroke-width="0.45">]</text></g>
<rect x="671.3" y="21.4" width="297.1" height="434.5" fill="#fff" stroke="#000" stroke-width="2.4"/>
<line x1="679.2" y1="41.4" x2="726.6" y2="41.4" stroke="#0000ff" stroke-width="2.2"/>
<text class="tx" font-style="italic" transform="translate(745.72,46.70) scale(0.9176,1)" font-size="23.97">H</text><text class="tx" transform="translate(762.70,49.20) scale(0.7893,1)" font-size="16.99">0</text> <text class="tx" transform="translate(776.71,47.20) scale(1.8187,1)" font-size="17.50">=</text> <text class="tx" transform="translate(800.29,46.70) scale(0.9382,1)" font-size="23.16">70</text> <text class="tx" transform="translate(827.66,46.70) scale(0.8917,1)" font-size="24.46">km</text> <text class="tx" transform="translate(860.38,46.70) scale(0.9255,1)" font-size="24.89">s</text><text class="tx" transform="translate(870.01,38.20) scale(1.3164,1)" font-size="16.50">−</text><text class="tx" transform="translate(881.78,36.90) scale(0.8822,1)" font-size="15.76">1</text> <text class="tx" transform="translate(895.28,46.70) scale(0.9647,1)" font-size="23.36">Mpc</text><text class="tx" transform="translate(938.28,38.20) scale(1.2382,1)" font-size="16.50">−</text><text class="tx" transform="translate(949.41,36.90) scale(0.9362,1)" font-size="15.76">1</text>
<line x1="679.2" y1="76.3" x2="726.6" y2="76.3" stroke="#ff0000" stroke-width="2.2"/>
<text class="tx" font-style="italic" transform="translate(745.72,81.40) scale(0.9176,1)" font-size="23.97">H</text><text class="tx" transform="translate(762.70,83.90) scale(0.7893,1)" font-size="16.99">0</text> <text class="tx" transform="translate(776.71,81.90) scale(1.8187,1)" font-size="17.50">=</text> <text class="tx" transform="translate(801.02,81.40) scale(0.9054,1)" font-size="23.16">90</text> <text class="tx" transform="translate(827.66,81.40) scale(0.8917,1)" font-size="24.46">km</text> <text class="tx" transform="translate(860.38,81.40) scale(0.9255,1)" font-size="24.89">s</text><text class="tx" transform="translate(870.01,72.90) scale(1.3164,1)" font-size="16.50">−</text><text class="tx" transform="translate(881.78,71.60) scale(0.8822,1)" font-size="15.76">1</text> <text class="tx" transform="translate(895.28,81.40) scale(0.9647,1)" font-size="23.36">Mpc</text><text class="tx" transform="translate(938.28,72.90) scale(1.2382,1)" font-size="16.50">−</text><text class="tx" transform="translate(949.41,71.60) scale(0.9362,1)" font-size="15.76">1</text>
<line x1="679.2" y1="111.3" x2="726.6" y2="111.3" stroke="#008000" stroke-width="2.2"/>
<text class="tx" font-style="italic" transform="translate(745.72,116.20) scale(0.9176,1)" font-size="23.97">H</text><text class="tx" transform="translate(762.70,118.70) scale(0.7893,1)" font-size="16.99">0</text> <text class="tx" transform="translate(776.71,116.70) scale(1.8187,1)" font-size="17.50">=</text> <text class="tx" transform="translate(800.46,116.20) scale(0.9304,1)" font-size="23.16">50</text> <text class="tx" transform="translate(827.66,116.20) scale(0.8917,1)" font-size="24.46">km</text> <text class="tx" transform="translate(860.38,116.20) scale(0.9255,1)" font-size="24.89">s</text><text class="tx" transform="translate(870.01,107.70) scale(1.3164,1)" font-size="16.50">−</text><text class="tx" transform="translate(881.78,106.40) scale(0.8822,1)" font-size="15.76">1</text> <text class="tx" transform="translate(895.28,116.20) scale(0.9647,1)" font-size="23.36">Mpc</text><text class="tx" transform="translate(938.28,107.70) scale(1.2382,1)" font-size="16.50">−</text><text class="tx" transform="translate(949.41,106.40) scale(0.9362,1)" font-size="15.76">1</text>
<line x1="702.6" y1="131.8" x2="702.6" y2="155.0" stroke="#000000" stroke-width="2.3"/>
<line x1="696.8" y1="131.8" x2="708.4" y2="131.8" stroke="#000000" stroke-width="1"/>
<line x1="696.8" y1="155.0" x2="708.4" y2="155.0" stroke="#000000" stroke-width="1"/>
<circle cx="702.6" cy="143.4" r="5.7" fill="#000000" stroke="#000" stroke-width="1"/>
<text class="ss" transform="translate(742.70,151.30) scale(0.9881,1)" font-size="23.30">EGS</text>
<line x1="702.6" y1="164.1" x2="702.6" y2="187.3" stroke="#0000ff" stroke-width="2.3"/>
<line x1="696.8" y1="164.1" x2="708.4" y2="164.1" stroke="#0000ff" stroke-width="1"/>
<line x1="696.8" y1="187.3" x2="708.4" y2="187.3" stroke="#0000ff" stroke-width="1"/>
<circle cx="702.6" cy="175.7" r="5.7" fill="#0000ff" stroke="#000" stroke-width="1"/>
<text class="ss" transform="translate(743.47,183.56) scale(0.9659,1)" font-size="23.30">COSMOS</text>
<line x1="702.6" y1="196.3" x2="702.6" y2="219.5" stroke="#008000" stroke-width="2.3"/>
<line x1="696.8" y1="196.3" x2="708.4" y2="196.3" stroke="#008000" stroke-width="1"/>
<line x1="696.8" y1="219.5" x2="708.4" y2="219.5" stroke="#008000" stroke-width="1"/>
<circle cx="702.6" cy="207.9" r="5.7" fill="#008000" stroke="#000" stroke-width="1"/>
<text class="ss" transform="translate(742.82,215.82) scale(0.9856,1)" font-size="23.30">UDS</text>
<line x1="702.6" y1="228.6" x2="702.6" y2="251.8" stroke="#ff0000" stroke-width="2.3"/>
<line x1="696.8" y1="228.6" x2="708.4" y2="228.6" stroke="#ff0000" stroke-width="1"/>
<line x1="696.8" y1="251.8" x2="708.4" y2="251.8" stroke="#ff0000" stroke-width="1"/>
<circle cx="702.6" cy="240.2" r="5.7" fill="#ff0000" stroke="#000" stroke-width="1"/>
<text class="ss" transform="translate(743.46,248.08) scale(0.9748,1)" font-size="23.30">GOODS-S</text>
<line x1="702.6" y1="260.8" x2="702.6" y2="284.0" stroke="#bf00bf" stroke-width="2.3"/>
<line x1="696.8" y1="260.8" x2="708.4" y2="260.8" stroke="#bf00bf" stroke-width="1"/>
<line x1="696.8" y1="284.0" x2="708.4" y2="284.0" stroke="#bf00bf" stroke-width="1"/>
<circle cx="702.6" cy="272.4" r="5.7" fill="#bf00bf" stroke="#000" stroke-width="1"/>
<text class="ss" transform="translate(743.46,280.34) scale(0.9776,1)" font-size="23.30">GOODS-N</text>
<line x1="702.6" y1="293.1" x2="702.6" y2="316.3" stroke="#00bfbf" stroke-width="2.3"/>
<line x1="696.8" y1="293.1" x2="708.4" y2="293.1" stroke="#00bfbf" stroke-width="1"/>
<line x1="696.8" y1="316.3" x2="708.4" y2="316.3" stroke="#00bfbf" stroke-width="1"/>
<circle cx="702.6" cy="304.7" r="5.7" fill="#00bfbf" stroke="#000" stroke-width="1"/>
<text class="ss" transform="translate(743.58,312.60) scale(0.9712,1)" font-size="23.30">S05</text>
<line x1="702.6" y1="325.4" x2="702.6" y2="348.6" stroke="#bfbf00" stroke-width="2.3"/>
<line x1="696.8" y1="325.4" x2="708.4" y2="325.4" stroke="#bfbf00" stroke-width="1"/>
<line x1="696.8" y1="348.6" x2="708.4" y2="348.6" stroke="#bfbf00" stroke-width="1"/>
<circle cx="702.6" cy="337.0" r="5.7" fill="#bfbf00" stroke="#000" stroke-width="1"/>
<text class="ss" transform="translate(743.02,344.86) scale(0.9702,1)" font-size="23.30">high-</text><text class="tx" font-style="italic" transform="translate(795.25,344.86) scale(0.8990,1)" font-size="22.39" stroke="#fff" stroke-width="0.30">z</text> <text class="ss" transform="translate(811.34,344.86) scale(0.9608,1)" font-size="23.30">QSOs</text>
<line x1="702.6" y1="357.6" x2="702.6" y2="380.8" stroke="#a0522d" stroke-width="2.3"/>
<line x1="696.8" y1="357.6" x2="708.4" y2="357.6" stroke="#a0522d" stroke-width="1"/>
<line x1="696.8" y1="380.8" x2="708.4" y2="380.8" stroke="#a0522d" stroke-width="1"/>
<circle cx="702.6" cy="369.2" r="5.7" fill="#a0522d" stroke="#000" stroke-width="1"/>
<text class="ss" transform="translate(742.76,377.12) scale(0.9585,1)" font-size="23.30">Pan-STARRS1 QSOs</text>
<line x1="702.6" y1="389.9" x2="702.6" y2="413.1" stroke="#8b0000" stroke-width="2.3"/>
<line x1="696.8" y1="389.9" x2="708.4" y2="389.9" stroke="#8b0000" stroke-width="1"/>
<line x1="696.8" y1="413.1" x2="708.4" y2="413.1" stroke="#8b0000" stroke-width="1"/>
<circle cx="702.6" cy="401.5" r="5.7" fill="#8b0000" stroke="#000" stroke-width="1"/>
<text class="ss" transform="translate(743.48,409.38) scale(0.9615,1)" font-size="23.30">GEMINI QSOs</text>
<line x1="702.6" y1="422.1" x2="702.6" y2="445.3" stroke="#b8860b" stroke-width="2.3"/>
<line x1="696.8" y1="422.1" x2="708.4" y2="422.1" stroke="#b8860b" stroke-width="1"/>
<line x1="696.8" y1="445.3" x2="708.4" y2="445.3" stroke="#b8860b" stroke-width="1"/>
<circle cx="702.6" cy="433.7" r="5.7" fill="#b8860b" stroke="#000" stroke-width="1"/>
<text class="ss" transform="translate(743.59,441.64) scale(0.9652,1)" font-size="23.30">SDSS QSOs</text>
</svg>
</body></html>
